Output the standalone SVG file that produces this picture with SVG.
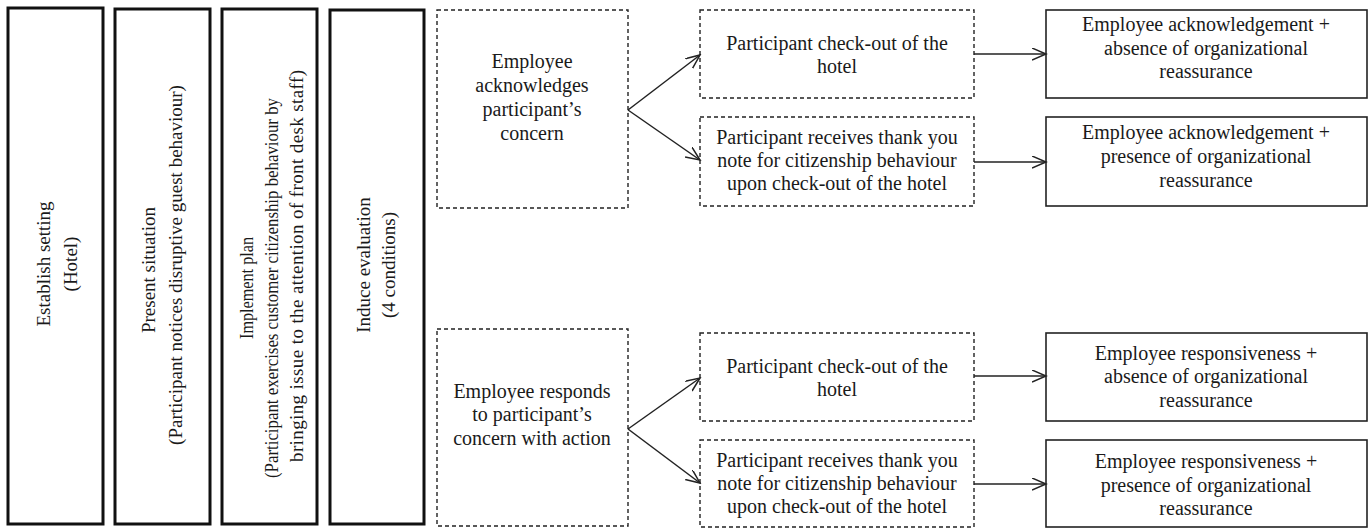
<svg xmlns="http://www.w3.org/2000/svg" width="1371" height="528" viewBox="0 0 1371 528">
<style>
  .thick { fill: #fff; stroke: #111; stroke-width: 3; }
  .dash { fill: #fff; stroke: #222; stroke-width: 1.4; stroke-dasharray: 4 3; }
  .solid { fill: #fff; stroke: #222; stroke-width: 1.6; }
  text { font-family: 'Liberation Serif', 'DejaVu Serif', serif; fill: #1a1a1a; text-anchor: middle; }
  .h { font-size: 20px; }
  .v { font-size: 19px; }
  .conn line { stroke: #222; stroke-width: 1.5; marker-end: url(#arr); }
</style>
<defs>
  <marker id="arr" markerUnits="userSpaceOnUse" markerWidth="16" markerHeight="14" refX="14" refY="6" orient="auto">
    <path d="M0,0 L14,6 L0,12" fill="none" stroke="#222" stroke-width="1.5"/>
  </marker>
</defs>
<rect width="1371" height="528" fill="#fff"/>

<g id="n-setting">
  <rect class="thick" x="8" y="8" width="95" height="516"/>
  <text class="v" transform="translate(50,264) rotate(-90)">Establish  setting</text>
  <text class="v" transform="translate(77,264) rotate(-90)">(Hotel)</text>
</g>
<g id="n-situation">
  <rect class="thick" x="115" y="9" width="95" height="515"/>
  <text class="v" transform="translate(155,270) rotate(-90)">Present situation</text>
  <text class="v" transform="translate(182,265) rotate(-90)">(Participant notices disruptive  guest behaviour)</text>
</g>
<g id="n-plan">
  <rect class="thick" x="222" y="9" width="95" height="515"/>
  <text class="v" transform="translate(253,288) rotate(-90)" textLength="102" lengthAdjust="spacingAndGlyphs">Implement  plan</text>
  <text class="v" transform="translate(278,288) rotate(-90)" textLength="380" lengthAdjust="spacingAndGlyphs">(Participant exercises customer citizenship  behaviour  by</text>
  <text class="v" transform="translate(303,266) rotate(-90)" textLength="392" lengthAdjust="spacing">bringing  issue to the attention of front desk staff)</text>
</g>
<g id="n-evaluation">
  <rect class="thick" x="330" y="10" width="94" height="514"/>
  <text class="v" transform="translate(370,265) rotate(-90)">Induce evaluation</text>
  <text class="v" transform="translate(395,265) rotate(-90)">(4 conditions)</text>
</g>

<g id="n-ack">
  <rect class="dash" x="437" y="10" width="191" height="198"/>
  <text class="h" x="532" y="68">Employee</text>
  <text class="h" x="532" y="92">acknowledges</text>
  <text class="h" x="532" y="116">participant’s</text>
  <text class="h" x="532" y="140">concern</text>
</g>
<g id="n-resp">
  <rect class="dash" x="437" y="329" width="191" height="197"/>
  <text class="h" x="532" y="398">Employee responds</text>
  <text class="h" x="532" y="421">to participant’s</text>
  <text class="h" x="532" y="445">concern with action</text>
</g>

<g id="n-checkout1">
  <rect class="dash" x="700" y="10" width="274" height="88"/>
  <text class="h" x="837" y="50">Participant check-out of the</text>
  <text class="h" x="837" y="73">hotel</text>
</g>
<g id="n-thanks1">
  <rect class="dash" x="700" y="117" width="274" height="89"/>
  <text class="h" x="837" y="144">Participant receives thank you</text>
  <text class="h" x="837" y="167">note for citizenship  behaviour</text>
  <text class="h" x="837" y="190">upon check-out of the hotel</text>
</g>
<g id="n-checkout2">
  <rect class="dash" x="700" y="333" width="274" height="88"/>
  <text class="h" x="837" y="373">Participant check-out of the</text>
  <text class="h" x="837" y="396">hotel</text>
</g>
<g id="n-thanks2">
  <rect class="dash" x="700" y="440" width="274" height="87"/>
  <text class="h" x="837" y="467">Participant receives thank you</text>
  <text class="h" x="837" y="490">note for citizenship  behaviour</text>
  <text class="h" x="837" y="513">upon check-out of the hotel</text>
</g>

<g id="n-out1">
  <rect class="solid" x="1046" y="10" width="321" height="88"/>
  <text class="h" x="1206" y="31">Employee  acknowledgement +</text>
  <text class="h" x="1206" y="55">absence of organizational</text>
  <text class="h" x="1206" y="78">reassurance</text>
</g>
<g id="n-out2">
  <rect class="solid" x="1046" y="117" width="321" height="89"/>
  <text class="h" x="1206" y="139">Employee  acknowledgement +</text>
  <text class="h" x="1206" y="163">presence of organizational</text>
  <text class="h" x="1206" y="187">reassurance</text>
</g>
<g id="n-out3">
  <rect class="solid" x="1046" y="333" width="321" height="88"/>
  <text class="h" x="1206" y="360">Employee responsiveness +</text>
  <text class="h" x="1206" y="383">absence of organizational</text>
  <text class="h" x="1206" y="407">reassurance</text>
</g>
<g id="n-out4">
  <rect class="solid" x="1046" y="440" width="321" height="87"/>
  <text class="h" x="1206" y="468">Employee responsiveness +</text>
  <text class="h" x="1206" y="492">presence of organizational</text>
  <text class="h" x="1206" y="515">reassurance</text>
</g>

<g id="connectors" class="conn">
  <line x1="628" y1="110" x2="700" y2="55"/>
  <line x1="628" y1="110" x2="700" y2="160"/>
  <line x1="974" y1="54" x2="1046" y2="54"/>
  <line x1="974" y1="162" x2="1046" y2="162"/>
  <line x1="628" y1="429" x2="700" y2="378"/>
  <line x1="628" y1="429" x2="700" y2="483"/>
  <line x1="974" y1="376" x2="1046" y2="376"/>
  <line x1="974" y1="484" x2="1046" y2="484"/>
</g>
</svg>
